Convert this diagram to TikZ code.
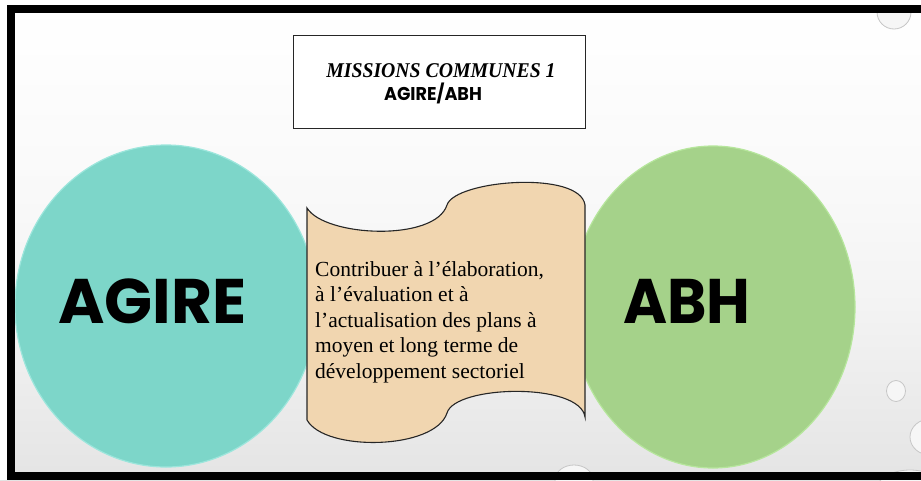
\documentclass[tikz,border=0pt]{standalone}
\usepackage{fontspec}
\setmainfont{Liberation Serif}
\newfontfamily\geo{Poppins}
\usetikzlibrary{shapes.geometric}
\definecolor{tealfill}{HTML}{7DD6C9}
\definecolor{tealrim}{HTML}{9CE6DC}
\definecolor{greenfill}{HTML}{A5D28A}
\definecolor{greenrim}{HTML}{B6E69C}
\definecolor{scrollfill}{HTML}{F1D6B0}
\pgfdeclareverticalshading{bgshade}{100bp}{color(0bp)=(gray!21); color(25bp)=(gray!21); color(31bp)=(gray!17); color(44bp)=(gray!9); color(54bp)=(gray!5); color(70bp)=(gray!1); color(75bp)=(white); color(100bp)=(white)}
\tikzset{
  blob/.style={ellipse, inner sep=0, line width=1.2},
  drop/.style={ellipse, inner sep=0, fill=gray!7, draw=gray!45, line width=0.8},
  bigword/.style={font=\geo\bfseries\fontsize{63}{63}\selectfont, anchor=base, inner sep=0},
  bodyline/.style={font=\fontsize{21.5}{25.5}\selectfont, anchor=base west, inner sep=0},
  frameband/.style={fill=black}
}
\begin{document}
\begin{tikzpicture}[x=1pt,y=-1pt]
\useasboundingbox (0,0) rectangle (921,480);
% background
\shade[shading=bgshade] (0,0) rectangle (921,480);
% drops
\node[drop, minimum width=34, minimum height=34] (d1) at (894,12) {};
\node[drop, minimum width=19, minimum height=21] (d2) at (896,391) {};
\node[drop, minimum width=40, minimum height=36] (d3) at (930,437) {};
\node[drop, minimum width=38, minimum height=30] (d4) at (574,480) {};
\node[drop, minimum width=70, minimum height=44] (d5) at (910,492) {};
% blobs
\node[blob, fill=tealfill, draw=tealrim, minimum width=302, minimum height=322] (agire) at (166,306) {};
\node[blob, fill=greenfill, draw=greenrim, minimum width=284, minimum height=322] (abh) at (713,307) {};
% scroll
\draw[fill=scrollfill, draw=black!85, line width=1.1]
  (307,208) .. controls (325,237) and (435,242) .. (447,205)
  .. controls (455,180) and (580,170) .. (585,205)
  -- (585,417)
  .. controls (580,382) and (455,385) .. (447,413)
  .. controls (435,450) and (325,452) .. (307,420) -- cycle;
% title box
\node[draw=black!85, fill=white, line width=1, minimum width=292, minimum height=93, inner sep=0] (titlebox) at (439,81.5) {};
\node[font=\bfseries\itshape\fontsize{21}{21}\selectfont, anchor=base, inner sep=0] (t1) at (441,77) {\scalebox{0.94}[1]{MISSIONS COMMUNES 1}};
\node[font=\geo\bfseries\fontsize{18.5}{18.5}\selectfont, anchor=base, inner sep=0] (t2) at (433,100) {\scalebox{0.95}[1]{AGIRE/ABH}};
% big words
\node[bigword] (w1) at (152.5,323) {AGIRE};
\node[bigword] (w2) at (687,323) {\scalebox{0.95}[1]{ABH}};
% body text
\node[bodyline] (l1) at (315,276) {Contribuer à l’élaboration,};
\node[bodyline] (l2) at (315,301.5) {à l’évaluation et à};
\node[bodyline] (l3) at (315,327) {l’actualisation des plans à};
\node[bodyline] (l4) at (315,352.5) {moyen et long terme de};
\node[bodyline] (l5) at (315,378) {développement sectoriel};
% frame
\fill[white] (0,0) rectangle (921,5);
\fill[white] (0,0) rectangle (7,480);
\fill[frameband] (7,5) rectangle (921,13);
\fill[frameband] (7,5) rectangle (15,480);
\fill[frameband] (7,472) rectangle (921,480);
\end{tikzpicture}
\end{document}
